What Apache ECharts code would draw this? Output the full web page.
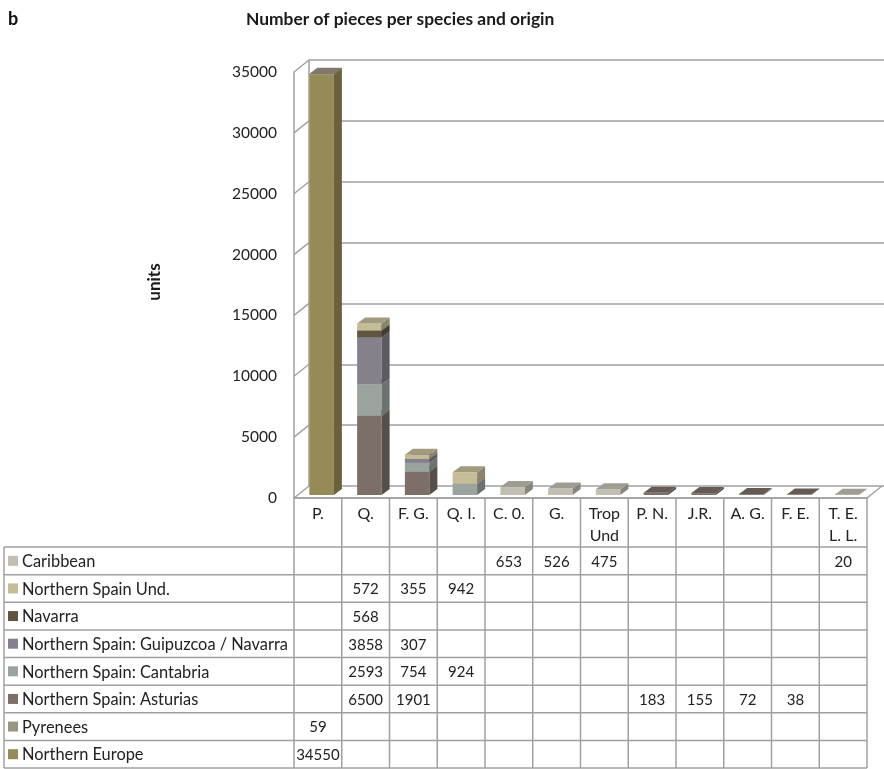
<!DOCTYPE html>
<html><head><meta charset="utf-8">
<script src="https://cdn.jsdelivr.net/npm/echarts@6/dist/echarts.min.js"></script>
<style>html,body{margin:0;padding:0;background:#fff;}#c{width:884px;height:769px;}</style>
</head><body><div id="c"></div>
<script>
// ---------------- data ----------------
const categories = ['P.', 'Q.', 'F. G.', 'Q. I.', 'C. 0.', 'G.', 'Trop\nUnd', 'P. N.', 'J.R.', 'A. G.', 'F. E.', 'T. E.\nL. L.'];
const yTicks = [0, 5000, 10000, 15000, 20000, 25000, 30000, 35000];
const northernEurope   = [34550, null, null, null, null, null, null, null, null, null, null, null];
const pyrenees         = [59, null, null, null, null, null, null, null, null, null, null, null];
const asturias         = [null, 6500, 1901, null, null, null, null, 183, 155, 72, 38, null];
const cantabria        = [null, 2593, 754, 924, null, null, null, null, null, null, null, null];
const guipuzcoaNavarra = [null, 3858, 307, null, null, null, null, null, null, null, null, null];
const navarra          = [null, 568, null, null, null, null, null, null, null, null, null, null];
const northernSpainUnd = [null, 572, 355, 942, null, null, null, null, null, null, null, null];
const caribbean        = [null, null, null, null, 653, 526, 475, null, null, null, null, 20];
const originNames = ['Northern Europe', 'Pyrenees', 'Northern Spain: Asturias', 'Northern Spain: Cantabria',
  'Northern Spain: Guipuzcoa / Navarra', 'Navarra', 'Northern Spain Und.', 'Caribbean'];
const originValues = [northernEurope, pyrenees, asturias, cantabria, guipuzcoaNavarra, navarra, northernSpainUnd, caribbean];

// ---------------- styles ----------------
const colors = ['#968a56', '#9b9580', '#7c6f67', '#9aa39d', '#85808c', '#5f5540', '#c5bc98', '#c2beb2'];
const FONT = 'Lato';
const TXT = '#222222';
const LINE = '#a0a0a0';
const DX = 15, DY = -12;          // floor depth
const BDX = 8, BDY = -6;          // bar depth
const GL = 294, GR = 867, G0 = 498, GT = 72;

function shade(hex, f) {
  const n = parseInt(hex.slice(1), 16);
  const r = Math.round(((n >> 16) & 255) * f), g = Math.round(((n >> 8) & 255) * f), b = Math.round((n & 255) * f);
  return 'rgb(' + r + ',' + g + ',' + b + ')';
}

function barRenderer(color) {
  const side = shade(color, 0.7), top = shade(color, 0.82);
  return function (params, api) {
    const i = api.value(0), b = api.value(1), t = api.value(2);
    const pb = api.coord([i, b]), pt = api.coord([i, t]);
    const x0 = pb[0] - 8.5, x1 = x0 + 24.5, yb = pb[1] - 3, yt = pt[1] - 3;
    return {
      type: 'group', children: [
        { type: 'rect', shape: { x: x0, y: yt, width: x1 - x0, height: Math.max(yb - yt, 0) }, style: { fill: color } },
        { type: 'polygon', shape: { points: [[x1, yb], [x1 + BDX, yb + BDY], [x1 + BDX, yt + BDY], [x1, yt]] }, style: { fill: side } },
        { type: 'polygon', shape: { points: [[x0, yt], [x1, yt], [x1 + BDX, yt + BDY], [x0 + BDX, yt + BDY]] }, style: { fill: top } }
      ]
    };
  };
}

// stacked custom series
const cum = categories.map(() => 0);
const barSeries = originValues.map((vals, s) => {
  const data = [];
  vals.forEach((v, i) => {
    if (v != null) { data.push([i, cum[i], cum[i] + v]); cum[i] += v; }
  });
  return {
    type: 'custom', name: originNames[s], xAxisIndex: 0, yAxisIndex: 0,
    renderItem: barRenderer(colors[s]), data: data, z: 3 + s, silent: true
  };
});

// diagonal depth lines (ticks + floor edges)
const depthSeries = {
  type: 'custom', xAxisIndex: 0, yAxisIndex: 0, silent: true, z: 2,
  data: yTicks.map(v => [0, v]),
  renderItem: function (params, api) {
    const v = api.value(1);
    const p = api.coord([0, v]);
    const bw = api.size([1, 0])[0];
    const x = p[0] - bw / 2;
    const ch = [{ type: 'line', shape: { x1: x, y1: p[1], x2: x + DX, y2: p[1] + DY }, style: { stroke: LINE, lineWidth: 1.5 } }];
    if (v === 0) {
      const xr = api.coord([categories.length - 1, 0])[0] + bw / 2;
      ch.push({ type: 'line', shape: { x1: xr, y1: p[1], x2: xr + DX, y2: p[1] + DY }, style: { stroke: LINE, lineWidth: 1.5 } });
    }
    return { type: 'group', children: ch };
  }
};

// ---------------- table (graphic) ----------------
const graphics = [];
const colW = (GR - GL) / categories.length;
const headTop = G0, headBot = 547, rowH = (768 - 547) / 8, tblLeft = 4;
graphics.push({ type: 'line', shape: { x1: GL, y1: headTop, x2: GR, y2: headTop }, style: { stroke: LINE, lineWidth: 1.5 } });
for (let k = 0; k <= 8; k++) {
  const y = headBot + k * rowH;
  graphics.push({ type: 'line', shape: { x1: tblLeft, y1: y, x2: GR, y2: y }, style: { stroke: LINE, lineWidth: 1.5 } });
}
graphics.push({ type: 'line', shape: { x1: tblLeft, y1: headBot, x2: tblLeft, y2: 768 }, style: { stroke: LINE, lineWidth: 1.5 } });
for (let k = 0; k <= categories.length; k++) {
  const x = GL + k * colW;
  graphics.push({ type: 'line', shape: { x1: x, y1: headTop, x2: x, y2: 768 }, style: { stroke: LINE, lineWidth: 1.5 } });
}
categories.forEach((c, i) => {
  graphics.push({ type: 'text', x: GL + (i + 0.5) * colW, y: headTop + 5,
    style: { text: c, fill: TXT, font: '16px ' + FONT, align: 'center', verticalAlign: 'top', lineHeight: 22 } });
});
for (let r = 0; r < 8; r++) {
  const s = 7 - r;
  const yc = headBot + (r + 0.5) * rowH;
  graphics.push({ type: 'rect', shape: { x: 8, y: yc - 5, width: 10, height: 10 }, style: { fill: colors[s] } });
  graphics.push({ type: 'text', x: 22, y: yc + 1,
    style: { text: originNames[s], fill: TXT, font: '16.4px ' + FONT, align: 'left', verticalAlign: 'middle' } });
  originValues[s].forEach((v, i) => {
    if (v != null) {
      graphics.push({ type: 'text', x: GL + (i + 0.5) * colW, y: yc + 1,
        style: { text: String(v), fill: TXT, font: '15px ' + FONT, align: 'center', verticalAlign: 'middle' } });
    }
  });
}
graphics.push({ type: 'text', x: 8, y: 10, style: { text: 'b', fill: '#111', font: 'bold 18px ' + FONT } });
graphics.push({ type: 'text', x: 246, y: 11, style: { text: 'Number of pieces per species and origin', fill: '#1a1a1a', font: 'bold 17.4px ' + FONT } });
graphics.push({ type: 'text', x: 155, y: 282, rotation: Math.PI / 2,
  style: { text: 'units', fill: '#1a1a1a', font: 'bold 17px ' + FONT, align: 'center', verticalAlign: 'middle' } });

const option = {
  animation: false,
  backgroundColor: '#fff',
  grid: [
    { left: GL, right: 884 - GR, top: GT, bottom: 769 - G0 },
    { left: GL + DX, right: 0, top: GT + DY, bottom: 769 - G0 - DY }
  ],
  xAxis: [
    { type: 'category', gridIndex: 0, data: categories, axisLabel: { show: false }, axisTick: { show: false },
      axisLine: { show: true, lineStyle: { color: LINE, width: 1.5 } } },
    { type: 'category', gridIndex: 1, data: categories, show: false }
  ],
  yAxis: [
    { type: 'value', gridIndex: 0, min: 0, max: 35000, interval: 5000, splitLine: { show: false },
      axisLine: { show: true, lineStyle: { color: LINE, width: 1.5 } }, axisTick: { show: false },
      axisLabel: { color: TXT, fontFamily: FONT, fontSize: 15.5, margin: 17, formatter: v => String(v) } },
    { type: 'value', gridIndex: 1, min: 0, max: 35000, interval: 5000,
      splitLine: { show: true, lineStyle: { color: LINE, width: 1.5 } },
      axisLine: { show: true, lineStyle: { color: LINE, width: 1.5 } }, axisTick: { show: false }, axisLabel: { show: false } }
  ],
  series: [depthSeries].concat(barSeries),
  graphic: graphics
};
const chart = echarts.init(document.getElementById('c'), null, { renderer: 'canvas' });
chart.setOption(option);
</script>
</body></html>
